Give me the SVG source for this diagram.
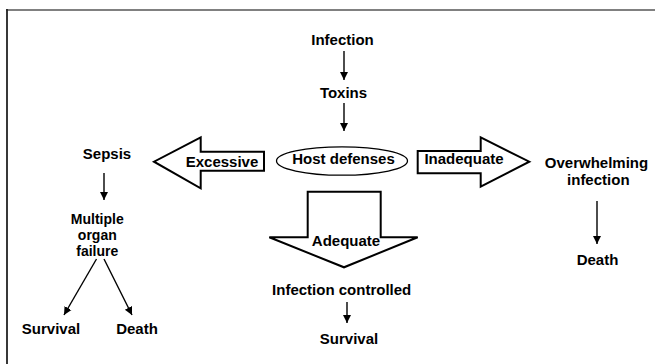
<svg xmlns="http://www.w3.org/2000/svg" width="655" height="364" viewBox="0 0 655 364">
<style>
text{font-family:"Liberation Sans",Arial,sans-serif;font-weight:bold;font-size:15px;fill:#000;text-anchor:middle}
.m{font-size:14px}
.c{stroke:#000;stroke-width:1.4;fill:none}
.blk{fill:#fff;stroke:#000;stroke-width:2;stroke-linejoin:miter}
</style>
<defs>
<marker id="ah" viewBox="0 0 8 10" refX="8" refY="5" markerWidth="8" markerHeight="10" markerUnits="userSpaceOnUse" orient="auto">
<path d="M0,1 L8,5 L0,9 Z" fill="#000"/>
</marker>
</defs>
<rect width="655" height="364" fill="#fff"/>
<line x1="6" y1="10" x2="655" y2="10" stroke="#808080" stroke-width="2"/>
<line x1="7" y1="9" x2="7" y2="364" stroke="#222" stroke-width="1.8"/>

<g id="connectors">
<line class="c" x1="344" y1="51" x2="344" y2="80" marker-end="url(#ah)"/>
<line class="c" x1="344" y1="103" x2="344" y2="131" marker-end="url(#ah)"/>
<line class="c" x1="104" y1="173" x2="104" y2="200" marker-end="url(#ah)"/>
<line class="c" x1="96.5" y1="259" x2="64" y2="315" marker-end="url(#ah)"/>
<line class="c" x1="104" y1="259" x2="132" y2="315" marker-end="url(#ah)"/>
<line class="c" x1="597" y1="201" x2="597" y2="244" marker-end="url(#ah)"/>
<line class="c" x1="347" y1="302" x2="347" y2="323" marker-end="url(#ah)"/>
</g>

<g id="infection"><text x="342.5" y="45">Infection</text></g>
<g id="toxins"><text x="343.5" y="97.5">Toxins</text></g>
<g id="host-defenses">
<ellipse cx="342" cy="161" rx="65.5" ry="14.2" fill="#fff" stroke="#000" stroke-width="1.3"/>
<text x="343.5" y="163.5">Host defenses</text>
</g>
<g id="excessive">
<path class="blk" d="M264,151.7 L200.7,151.7 L200.7,137.3 L154,161.7 L200.7,188.3 L200.7,170.7 L264,170.7 Z"/>
<text x="222" y="166.5">Excessive</text>
</g>
<g id="inadequate">
<path class="blk" d="M417.7,151 L480.7,151 L480.7,137.3 L529.3,161.7 L480.7,186.7 L480.7,173.3 L417.7,173.3 Z"/>
<text x="464" y="163.5">Inadequate</text>
</g>
<g id="adequate">
<path class="blk" d="M307.7,191.7 L380.7,191.7 L380.7,237.3 L417.7,237.3 L344,267.3 L269.3,237.3 L307.7,237.3 Z"/>
<text x="346" y="246">Adequate</text>
</g>
<g id="sepsis"><text x="107" y="158.5">Sepsis</text></g>
<g id="mof"><text class="m" x="97.3" y="223.5">Multiple<tspan x="97.3" dy="16">organ</tspan><tspan x="97.3" dy="16">failure</tspan></text></g>
<g id="survival-left"><text x="51" y="334">Survival</text></g>
<g id="death-left"><text x="137" y="334">Death</text></g>
<g id="overwhelming"><text x="596.5" y="168">Overwhelming<tspan x="598.3" dy="17">infection</tspan></text></g>
<g id="death-right"><text x="597.5" y="265">Death</text></g>
<g id="controlled"><text x="341.7" y="295">Infection controlled</text></g>
<g id="survival-center"><text x="349" y="344">Survival</text></g>
</svg>
